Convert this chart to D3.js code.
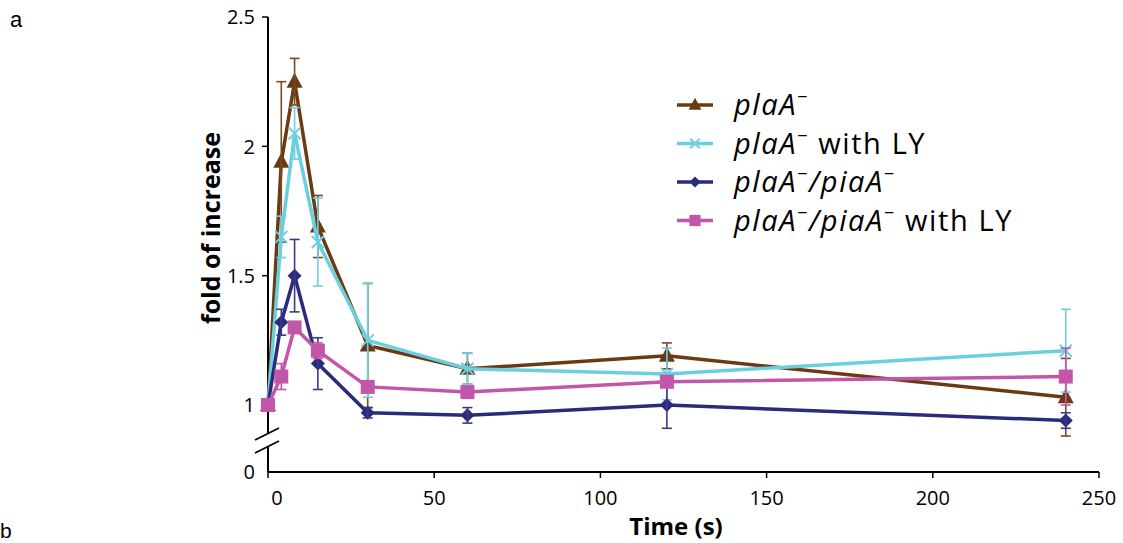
<!DOCTYPE html>
<html>
<head>
<meta charset="utf-8">
<script src="https://cdn.jsdelivr.net/npm/d3@7"></script>
<style>
  html, body { margin: 0; padding: 0; background: #fff; }
  svg { display: block; font-family: "Open Sans", sans-serif; }
</style>
</head>
<body>
<div id="chart"></div>
<script>
// time points (s)
const times = [0, 4, 8, 15, 30, 60, 120, 240];

// fold of increase per strain, with error bar half-widths
const plaA      = [1.00, 1.94, 2.25, 1.69, 1.23, 1.14, 1.19, 1.03];
const plaAErr   = [0, 0.31, 0.09, 0.12, 0.24, 0.06, 0.05, 0.15];
const plaALY    = [1.00, 1.65, 2.05, 1.63, 1.25, 1.14, 1.12, 1.21];
const plaALYErr = [0, 0.08, 0.10, 0.17, 0.22, 0.06, 0.10, 0.16];
const piaA      = [1.00, 1.32, 1.50, 1.16, 0.97, 0.96, 1.00, 0.94];
const piaAErr   = [0, 0.05, 0.14, 0.10, 0.02, 0.03, 0.09, 0.03];
const piaALY    = [1.00, 1.11, 1.30, 1.21, 1.07, 1.05, 1.09, 1.11];
const piaALYErr = [0, 0.05, 0.02, 0.03, 0.02, 0.02, 0.02, 0.11];

const xTicks = [0, 50, 100, 150, 200, 250];
const yTicks = [1, 1.5, 2, 2.5];
const yFloor = 0.741; // value drawn at the broken "0" position

const series = [
  { values: plaA, err: plaAErr, color: "#6b3a14", errColor: "#7a4a22", marker: "triangle" },
  { values: plaALY, err: plaALYErr, color: "#6ccfdd", errColor: "#6ccfdd", marker: "cross" },
  { values: piaA, err: piaAErr, color: "#2b2b7c", errColor: "#3a3a86", marker: "diamond" },
  { values: piaALY, err: piaALYErr, color: "#c256a8", errColor: "#c256a8", marker: "square" }
];

const width = 1123, height = 543;
const svg = d3.select("#chart").append("svg")
  .attr("width", width).attr("height", height);

const x = d3.scaleLinear().domain([0, 250]).range([268, 1099]);
const y = d3.scaleLinear().domain([yFloor, 2.5]).range([472, 17]);

// axes
const axisColor = "#000";
svg.append("line")
  .attr("x1", x(0)).attr("x2", x(250))
  .attr("y1", y(yFloor)).attr("y2", y(yFloor))
  .attr("stroke", axisColor).attr("stroke-width", 2);

// y axis with break
svg.append("line")
  .attr("x1", x(0)).attr("x2", x(0))
  .attr("y1", y(2.5)).attr("y2", 433)
  .attr("stroke", axisColor).attr("stroke-width", 2);
svg.append("line")
  .attr("x1", x(0)).attr("x2", x(0))
  .attr("y1", 446).attr("y2", y(yFloor))
  .attr("stroke", axisColor).attr("stroke-width", 2);
[440, 453].forEach(yy => {
  svg.append("line")
    .attr("x1", 255).attr("y1", yy)
    .attr("x2", 279).attr("y2", yy - 12)
    .attr("stroke", axisColor).attr("stroke-width", 1.6);
});

// y ticks
const yAxis = svg.append("g");
yAxis.selectAll("line.tick")
  .data(yTicks)
  .enter().append("line")
  .attr("x1", x(0) - 6).attr("x2", x(0))
  .attr("y1", d => y(d)).attr("y2", d => y(d))
  .attr("stroke", axisColor).attr("stroke-width", 1.5);
yAxis.selectAll("text")
  .data([yFloor].concat(yTicks))
  .enter().append("text")
  .attr("x", 255)
  .attr("y", d => y(d))
  .attr("dy", "0.36em")
  .attr("text-anchor", "end")
  .style("font-size", "20px")
  .text(d => d === yFloor ? "0" : d);

// x ticks
const xAxis = svg.append("g");
xAxis.selectAll("line")
  .data(xTicks)
  .enter().append("line")
  .attr("x1", d => x(d)).attr("x2", d => x(d))
  .attr("y1", y(yFloor)).attr("y2", y(yFloor) + 6)
  .attr("stroke", axisColor).attr("stroke-width", 1.5);
xAxis.selectAll("text")
  .data(xTicks)
  .enter().append("text")
  .attr("x", d => x(d) + (d === 0 ? 9 : 0))
  .attr("y", 505)
  .attr("text-anchor", "middle")
  .style("font-size", "20px")
  .text(d => d);

// axis titles
svg.append("text")
  .attr("transform", "translate(220,228) rotate(-90)")
  .attr("text-anchor", "middle")
  .style("font-size", "25px").style("font-weight", "bold")
  .text("fold of increase");
svg.append("text")
  .attr("x", 676).attr("y", 535)
  .attr("text-anchor", "middle")
  .style("font-size", "24px").style("font-weight", "bold")
  .text("Time (s)");

// panel letters
svg.append("text").attr("x", 10).attr("y", 27)
  .style("font-family", "'Liberation Sans', Arial, sans-serif")
  .style("font-size", "22px").text("a");
svg.append("text").attr("x", 0).attr("y", 538)
  .style("font-family", "'Liberation Sans', Arial, sans-serif")
  .style("font-size", "21px").text("b");

// marker drawing
const drawMarker = (g, type, cx, cy, color, s = 1) => {
  if (type === "triangle") {
    g.append("path")
      .attr("d", `M${cx},${cy - 9 * s}L${cx + 8 * s},${cy + 6 * s}L${cx - 8 * s},${cy + 6 * s}Z`)
      .attr("fill", color);
  } else if (type === "diamond") {
    g.append("path")
      .attr("d", `M${cx},${cy - 7 * s}L${cx + 7 * s},${cy}L${cx},${cy + 7 * s}L${cx - 7 * s},${cy}Z`)
      .attr("fill", color);
  } else if (type === "square") {
    g.append("rect")
      .attr("x", cx - 7 * s).attr("y", cy - 7 * s)
      .attr("width", 14 * s).attr("height", 14 * s)
      .attr("fill", color);
  } else if (type === "cross") {
    g.append("path")
      .attr("d", `M${cx - 6 * s},${cy - 6 * s}L${cx + 6 * s},${cy + 6 * s}M${cx + 6 * s},${cy - 6 * s}L${cx - 6 * s},${cy + 6 * s}`)
      .attr("stroke", color).attr("stroke-width", 2).attr("fill", "none");
  }
};

const line = d3.line()
  .x((d, i) => x(times[i]))
  .y(d => y(d));

series.forEach(s => {
  const g = svg.append("g");
  g.append("path")
    .datum(s.values)
    .attr("d", line)
    .attr("fill", "none")
    .attr("stroke", s.color)
    .attr("stroke-width", 3.5)
    .attr("stroke-linejoin", "miter");

  s.values.forEach((v, i) => {
    drawMarker(g, s.marker, x(times[i]), y(v), s.color);
  });

  // error bars
  s.values.forEach((v, i) => {
    const e = s.err[i];
    if (!e) return;
    const cx = x(times[i]);
    const eg = g.append("g").attr("stroke", s.errColor).attr("stroke-width", 1.6);
    eg.append("line").attr("x1", cx).attr("x2", cx)
      .attr("y1", y(v + e)).attr("y2", y(v - e));
    [v + e, v - e].forEach(ev => {
      eg.append("line").attr("x1", cx - 5).attr("x2", cx + 5)
        .attr("y1", y(ev)).attr("y2", y(ev));
    });
  });
});

// legend
const legendRows = [
  [{ t: "plaA", i: true }, { t: "\u2212", sup: true }],
  [{ t: "plaA", i: true }, { t: "\u2212", sup: true }, { t: " with LY" }],
  [{ t: "plaA", i: true }, { t: "\u2212", sup: true }, { t: "/piaA", i: true }, { t: "\u2212", sup: true }],
  [{ t: "plaA", i: true }, { t: "\u2212", sup: true }, { t: "/piaA", i: true }, { t: "\u2212", sup: true }, { t: " with LY" }]
];
const legendY = [105, 143.5, 182, 220.5];
const legend = svg.append("g");
series.forEach((s, k) => {
  const ly = legendY[k];
  legend.append("line")
    .attr("x1", 677).attr("x2", 713)
    .attr("y1", ly).attr("y2", ly)
    .attr("stroke", s.color).attr("stroke-width", 3.5);
  drawMarker(legend, s.marker, 695, ly, s.color, 0.8);
  const txt = legend.append("text")
    .attr("x", 734).attr("y", ly + 10)
    .style("font-size", "29px")
    .style("letter-spacing", "1.6px");
  legendRows[k].forEach(part => {
    const ts = txt.append("tspan").text(part.t);
    if (part.i) ts.style("font-style", "italic");
    if (part.sup) ts.attr("baseline-shift", "super").style("font-size", "18px");
  });
});
</script>
</body>
</html>
